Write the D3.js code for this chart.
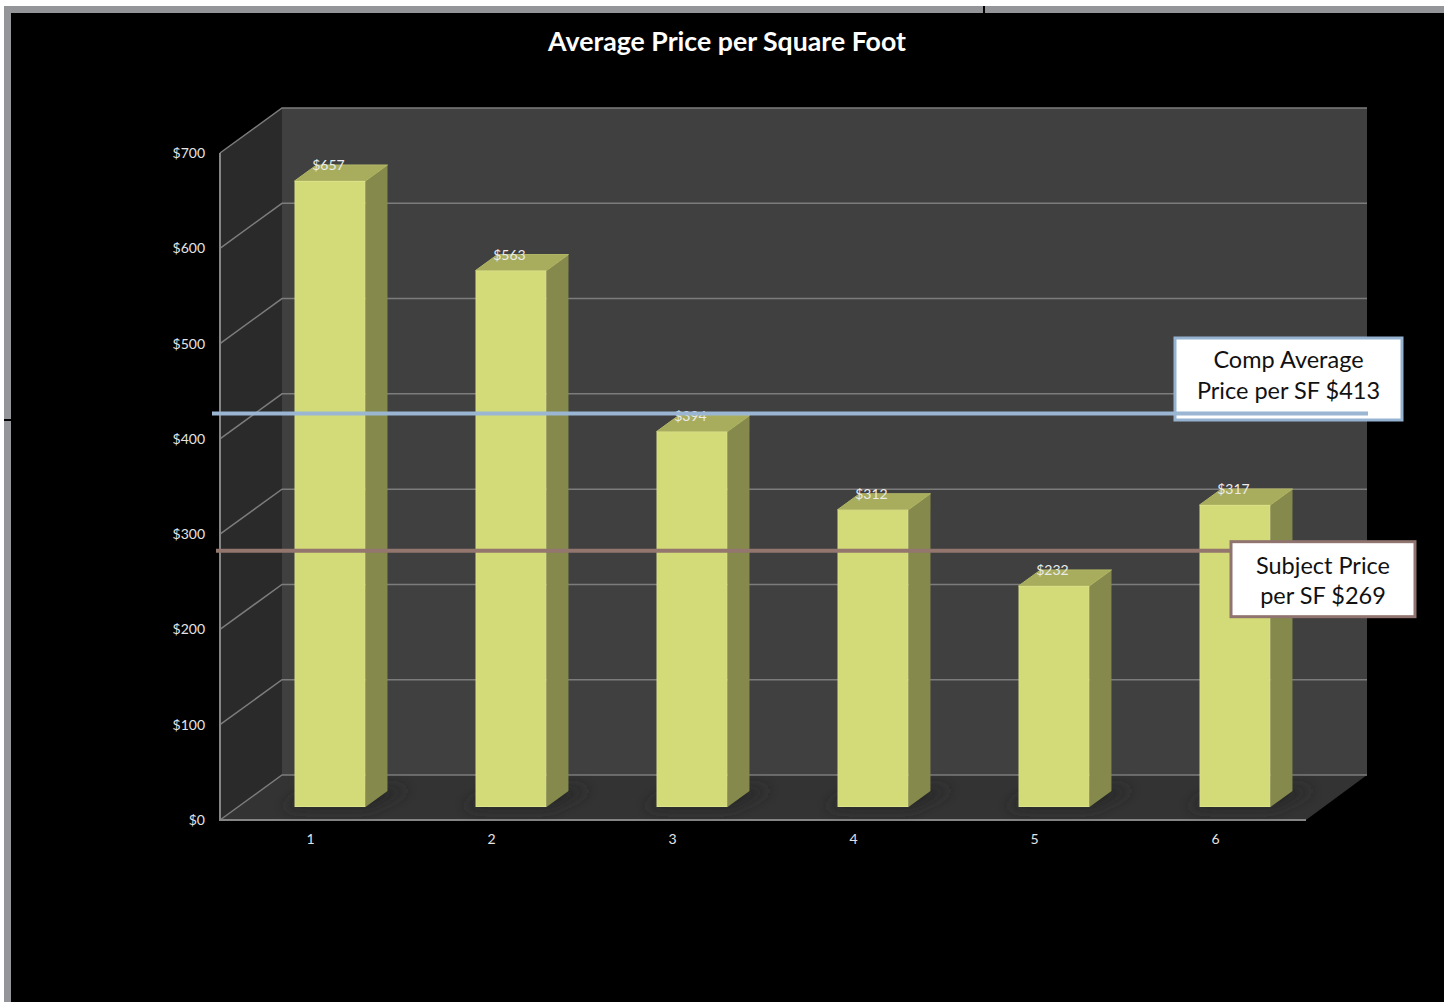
<!DOCTYPE html>
<html>
<head>
<meta charset="utf-8">
<script src="https://cdn.jsdelivr.net/npm/d3@7/dist/d3.min.js"></script>
<style>
  html, body { margin: 0; padding: 0; background: #fff; }
  svg { display: block; }
  text { font-family: Lato, "Open Sans", sans-serif; }
</style>
</head>
<body>
<svg id="chart" width="1449" height="1002"></svg>
<script>
// Chart values
const categories = [1, 2, 3, 4, 5, 6];
const prices = [657, 563, 394, 312, 232, 317];
const axisTicks = [0, 100, 200, 300, 400, 500, 600, 700];
const compAverage = 413;
const subjectPrice = 269;
const chartTitle = "Average Price per Square Foot";
const compLabel = ["Comp Average", "Price per SF $413"];
const subjectLabel = ["Subject Price", "per SF $269"];

const svg = d3.select("#chart");
const dollars = v => "$" + v;

// Front plane scales; the depth offsets below project them into the 3-D box
const x = d3.scaleBand().domain(categories).range([220, 1306]).paddingInner(0.608).paddingOuter(0.304);
const y = d3.scaleLinear().domain([0, 700]).range([820, 153]);
const wall = { dx: 62, dy: -45 };
const barPlane = { dx: 19.5, dy: -13 };
const barDepth = { dx: 22, dy: -16 };
const barY = v => y(v) + barPlane.dy;
const poly = pts => pts.map(p => p.join(",")).join(" ");

// Page frame: gray strips along the top and left of the black sheet
svg.append("rect").attr("x", 4).attr("y", 6).attr("width", 1440).attr("height", 996).attr("fill", "#939598");
svg.append("rect").attr("x", 11).attr("y", 13).attr("width", 1433).attr("height", 989).attr("fill", "#000");
svg.append("rect").attr("x", 983).attr("y", 6).attr("width", 2).attr("height", 7).attr("fill", "#000");
svg.append("rect").attr("x", 4).attr("y", 419).attr("width", 7).attr("height", 2).attr("fill", "#000");

const defs = svg.append("defs");
defs.append("filter").attr("id", "soft").attr("x", "-40%").attr("y", "-80%").attr("width", "180%").attr("height", "260%")
  .append("feGaussianBlur").attr("stdDeviation", 7);
defs.append("filter").attr("id", "softLine").attr("x", "-5%").attr("y", "-300%").attr("width", "110%").attr("height", "700%")
  .append("feGaussianBlur").attr("stdDeviation", 1.5);

const x0 = x.range()[0], x1 = x.range()[1];
const yBase = y(0), yTop = y(700);

// Box walls and floor
svg.append("polygon").attr("fill", "#2a2a2a")
  .attr("points", poly([[x0, yTop], [x0 + wall.dx, yTop + wall.dy], [x0 + wall.dx, yBase + wall.dy], [x0, yBase]]));
svg.append("rect").attr("fill", "#404040")
  .attr("x", x0 + wall.dx).attr("y", yTop + wall.dy)
  .attr("width", x1 - x0 - 1).attr("height", yBase - yTop);
svg.append("polygon").attr("fill", "#333333")
  .attr("points", poly([[x0, yBase], [x0 + wall.dx, yBase + wall.dy], [x1 + wall.dx - 1, yBase + wall.dy], [x1, yBase]]));

// Gridlines run along the side wall and across the back wall
const grid = svg.append("g").attr("fill", "none").attr("stroke", "#7c7c7c").attr("stroke-width", 1.5);
grid.selectAll("polyline").data(axisTicks).join("polyline")
  .attr("points", d => poly([[x0, y(d)], [x0 + wall.dx, y(d) + wall.dy], [x1 + wall.dx - 1, y(d) + wall.dy]]));

// Front axis edges
svg.append("path").attr("fill", "none").attr("stroke", "#858585").attr("stroke-width", 2)
  .attr("d", `M${x0},${yTop}V${yBase}H${x1}`);

// Floor shadows beneath the bars
svg.append("g").attr("filter", "url(#soft)").selectAll("polygon").data(categories).join("polygon")
  .attr("fill", "#262626")
  .attr("points", d => {
    const l = x(d) + barPlane.dx, r = l + x.bandwidth(), b = barY(0);
    return poly([[l - 12, b + 1], [r + 4, b + 1], [r + barDepth.dx + 22, b + barDepth.dy - 2], [l + 20, b + barDepth.dy - 2]]);
  });

// Bars: side face, top face, front face
const bars = svg.append("g").selectAll("g").data(categories.map((c, i) => ({ c, v: prices[i] }))).join("g");
bars.append("polygon").attr("fill", "#858a4c").attr("points", d => {
  const r = x(d.c) + barPlane.dx + x.bandwidth();
  return poly([[r, barY(d.v)], [r + barDepth.dx, barY(d.v) + barDepth.dy], [r + barDepth.dx, barY(0) + barDepth.dy], [r, barY(0)]]);
});
bars.append("polygon").attr("fill", "#a8ad5e").attr("stroke", "#b2b766").attr("stroke-width", 1).attr("points", d => {
  const l = x(d.c) + barPlane.dx, r = l + x.bandwidth(), t = barY(d.v);
  return poly([[l, t], [l + barDepth.dx, t + barDepth.dy], [r + barDepth.dx, t + barDepth.dy], [r, t]]);
});
bars.append("rect").attr("fill", "#d3da78").attr("stroke", "#dde388").attr("stroke-width", 1)
  .attr("x", d => x(d.c) + barPlane.dx + 0.5).attr("y", d => barY(d.v) + 0.5)
  .attr("width", x.bandwidth() - 1).attr("height", d => barY(0) - barY(d.v) - 1);

// Value labels over each bar
bars.append("text").attr("fill", "#ebebeb").attr("font-size", 14).attr("text-anchor", "middle")
  .attr("x", d => x(d.c) + x.bandwidth() / 2 + barPlane.dx - 1.5)
  .attr("y", d => barY(d.v) - 11)
  .text(d => dollars(d.v));

// Axes
const yAxis = svg.append("g").attr("transform", `translate(${x0 - 15},0)`)
  .call(d3.axisLeft(y).tickValues(axisTicks).tickSize(0).tickPadding(0).tickFormat(dollars));
const xAxis = svg.append("g").attr("transform", `translate(0,${yBase + 14})`)
  .call(d3.axisBottom(x).tickSize(0).tickPadding(0));
[yAxis, xAxis].forEach(a => {
  a.select(".domain").remove();
  a.selectAll("text").attr("fill", "#e4e4e4").attr("font-size", 14).style("font-family", "Lato, sans-serif");
});

// Title
svg.append("text").attr("x", 727).attr("y", 51).attr("text-anchor", "middle")
  .attr("fill", "#fff").attr("font-size", 26.7).attr("font-weight", 700).text(chartTitle);

// Callout box with two centred lines of text
function callout(box, stroke, lines, firstBaseline) {
  svg.append("rect").attr("x", box.x).attr("y", box.y).attr("width", box.w).attr("height", box.h)
    .attr("fill", "#fff").attr("stroke", stroke).attr("stroke-width", 3);
  svg.append("g").selectAll("text").data(lines).join("text")
    .attr("x", box.x + box.w / 2).attr("y", (d, i) => box.y + firstBaseline + i * 30.5)
    .attr("text-anchor", "middle").attr("fill", "#111").attr("font-size", 23.5).text(d => d);
}

// Subject price reference line; its callout hangs from the line
const subjectY = barY(subjectPrice);
svg.append("line").attr("x1", 216).attr("x2", 1232).attr("y1", subjectY).attr("y2", subjectY)
  .attr("stroke", "#93766e").attr("stroke-width", 4);
callout({ x: 1231, y: subjectY - 9, w: 184, h: 75 }, "#8f7470", subjectLabel, 32);

// Comp average reference line runs into the bottom of its callout
callout({ x: 1175, y: 338, w: 227, h: 82 }, "#95b3d0", compLabel, 30);
const compY = barY(compAverage);
svg.append("line").attr("x1", 1176).attr("x2", 1368).attr("y1", compY + 2).attr("y2", compY + 2)
  .attr("stroke", "#888").attr("stroke-width", 4).attr("filter", "url(#softLine)");
svg.append("line").attr("x1", 212).attr("x2", 1368).attr("y1", compY).attr("y2", compY)
  .attr("stroke", "#9ab6d2").attr("stroke-width", 4);
</script>
</body>
</html>
